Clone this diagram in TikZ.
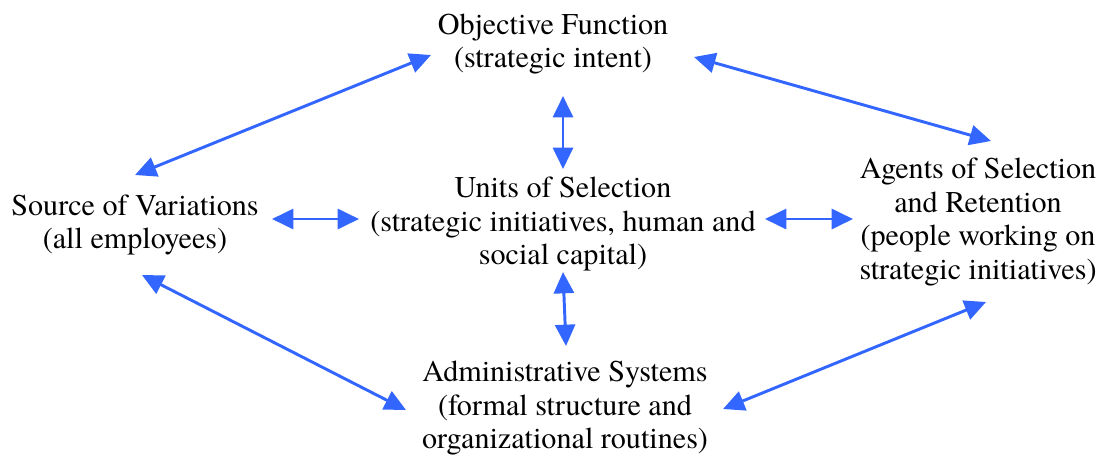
\documentclass[tikz,border=0pt]{standalone}
\usepackage{fontspec}
\setmainfont{TeX Gyre Termes}
\usetikzlibrary{arrows.meta}
\definecolor{arrblue}{HTML}{3366FF}
\begin{document}
\begin{tikzpicture}[x=0.75pt,y=-0.75pt,
  lbl/.style={align=center,inner sep=0pt,font=\fontsize{22.6}{25.4}\selectfont},
  conn/.style={draw=arrblue,line width=2.2pt,{Triangle[length=16pt,width=15pt]}-{Triangle[length=16pt,width=15pt]}}]
\useasboundingbox (0,0) rectangle (1119,457);
\node[lbl] (obj) at (553,44) {Objective Function\\(strategic intent)};
\node[lbl] (src) at (135,225) {Source of Variations\\(all employees)};
\node[lbl] (units) at (563,224) {Units of Selection\\(strategic initiatives, human and\\social capital)};
\node[lbl] (agents) at (978,222) {Agents of Selection\\and Retention\\(people working on\\strategic initiatives)};
\node[lbl] (admin) at (565,408) {Administrative Systems\\(formal structure and\\organizational routines)};
\coordinate (a1) at (135,175); \coordinate (a2) at (431,55);
\coordinate (b1) at (694,57); \coordinate (b2) at (991,141);
\coordinate (c1) at (272,219); \coordinate (c2) at (359,219);
\coordinate (d1) at (765,219); \coordinate (d2) at (853,219);
\coordinate (e1) at (563,96); \coordinate (e2) at (563,169);
\coordinate (f1) at (563,272); \coordinate (f2) at (566,346);
\coordinate (g1) at (142,275); \coordinate (g2) at (406,410);
\coordinate (h1) at (986,302); \coordinate (h2) at (723,409);
\draw[conn] (a1) -- (a2);
\draw[conn] (b1) -- (b2);
\draw[conn] (c1) -- (c2);
\draw[conn] (d1) -- (d2);
\draw[conn] (e1) -- (e2);
\draw[conn] (f1) -- (f2);
\draw[conn] (g1) -- (g2);
\draw[conn] (h1) -- (h2);
\end{tikzpicture}
\end{document}
